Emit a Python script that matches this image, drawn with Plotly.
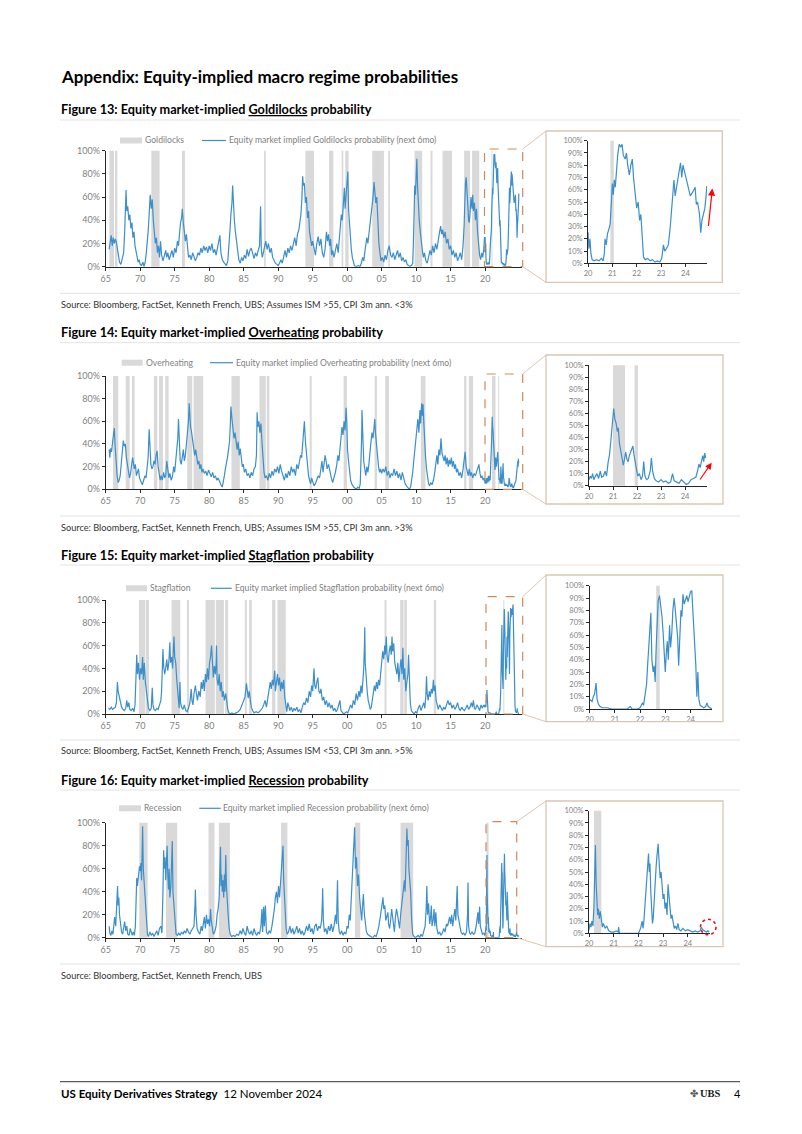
import plotly.graph_objects as go

# ---------------------------------------------------------------- data
# (year, probability %)
GOLD = [(1965.5,15),(1965.65,22),(1965.8,27),(1965.95,18),(1966.1,25),(1966.25,20),(1966.4,24),(1966.55,21),(1966.7,15),(1966.85,8),(1967.0,4),(1967.2,2),(1967.4,6),(1967.6,12),(1967.75,30),(1967.85,50),(1967.95,66),(1968.05,48),(1968.2,52),(1968.35,40),(1968.5,45),(1968.65,33),(1968.8,38),(1968.95,25),(1969.1,30),(1969.25,18),(1969.4,12),(1969.55,8),(1969.7,4),(1969.85,6),(1970.0,2),(1970.2,1),(1970.4,4),(1970.55,0),(1970.7,3),(1970.85,10),(1971.0,18),(1971.15,30),(1971.3,45),(1971.45,62),(1971.6,50),(1971.75,58),(1971.9,40),(1972.05,32),(1972.2,20),(1972.35,25),(1972.5,12),(1972.65,18),(1972.8,8),(1972.95,22),(1973.1,10),(1973.3,5),(1973.5,10),(1973.7,14),(1973.85,8),(1974.0,12),(1974.2,6),(1974.4,10),(1974.6,14),(1974.8,8),(1975.0,16),(1975.2,12),(1975.4,22),(1975.55,18),(1975.7,30),(1975.85,38),(1976.0,42),(1976.1,50),(1976.25,38),(1976.4,32),(1976.55,22),(1976.7,28),(1976.85,15),(1977.0,8),(1977.2,10),(1977.4,6),(1977.6,12),(1977.8,9),(1978.0,5),(1978.2,8),(1978.4,12),(1978.6,10),(1978.8,16),(1979.0,12),(1979.2,18),(1979.4,14),(1979.6,17),(1979.8,12),(1980.0,18),(1980.2,14),(1980.4,20),(1980.6,12),(1980.8,15),(1981.0,10),(1981.2,16),(1981.4,20),(1981.55,27),(1981.7,12),(1981.9,6),(1982.1,4),(1982.3,2),(1982.5,1),(1982.7,5),(1982.85,15),(1983.0,30),(1983.15,45),(1983.3,55),(1983.4,70),(1983.5,52),(1983.65,40),(1983.8,30),(1983.95,22),(1984.1,12),(1984.3,6),(1984.5,3),(1984.7,8),(1984.9,5),(1985.1,10),(1985.3,7),(1985.5,15),(1985.7,9),(1985.9,14),(1986.1,16),(1986.3,10),(1986.5,7),(1986.7,12),(1986.9,9),(1987.1,14),(1987.3,18),(1987.45,52),(1987.55,15),(1987.7,8),(1987.85,12),(1988.0,18),(1988.2,22),(1988.4,15),(1988.6,20),(1988.8,12),(1989.0,16),(1989.2,8),(1989.4,5),(1989.6,3),(1989.8,2),(1990.0,1),(1990.2,3),(1990.4,6),(1990.6,3),(1990.8,10),(1991.0,14),(1991.2,8),(1991.4,16),(1991.6,12),(1991.8,18),(1992.0,14),(1992.2,20),(1992.4,25),(1992.6,18),(1992.8,28),(1993.0,32),(1993.15,38),(1993.3,45),(1993.45,60),(1993.55,78),(1993.65,70),(1993.8,72),(1993.95,55),(1994.1,60),(1994.25,42),(1994.4,48),(1994.55,30),(1994.7,25),(1994.85,18),(1995.0,22),(1995.2,14),(1995.4,10),(1995.6,20),(1995.8,26),(1996.0,18),(1996.2,24),(1996.4,12),(1996.6,8),(1996.8,15),(1997.0,30),(1997.15,22),(1997.3,28),(1997.45,18),(1997.6,24),(1997.75,10),(1997.9,14),(1998.1,8),(1998.3,15),(1998.5,20),(1998.7,12),(1998.85,25),(1999.0,35),(1999.15,45),(1999.3,40),(1999.45,55),(1999.6,68),(1999.7,50),(1999.85,60),(2000.0,72),(2000.1,82),(2000.2,50),(2000.3,40),(2000.45,25),(2000.6,15),(2000.75,8),(2000.9,3),(2001.05,1),(2001.3,0),(2001.6,1),(2001.85,0),(2002.05,3),(2002.25,8),(2002.4,5),(2002.55,12),(2002.7,18),(2002.85,25),(2003.0,20),(2003.15,28),(2003.3,35),(2003.45,45),(2003.6,52),(2003.75,60),(2003.9,73),(2004.0,65),(2004.15,55),(2004.3,60),(2004.45,35),(2004.6,20),(2004.75,12),(2004.9,5),(2005.1,8),(2005.3,4),(2005.5,10),(2005.7,6),(2005.9,14),(2006.1,18),(2006.3,10),(2006.5,8),(2006.7,12),(2006.9,6),(2007.1,10),(2007.3,14),(2007.5,8),(2007.7,12),(2007.9,5),(2008.1,8),(2008.3,4),(2008.5,6),(2008.7,2),(2008.9,1),(2009.1,0),(2009.3,1),(2009.5,3),(2009.6,20),(2009.7,50),(2009.8,70),(2009.9,62),(2010.0,80),(2010.1,93),(2010.2,70),(2010.3,55),(2010.45,40),(2010.6,30),(2010.75,20),(2010.9,14),(2011.05,8),(2011.2,12),(2011.4,5),(2011.6,3),(2011.8,8),(2012.0,14),(2012.2,10),(2012.4,18),(2012.6,12),(2012.8,20),(2013.0,15),(2013.2,25),(2013.4,30),(2013.55,35),(2013.7,28),(2013.85,32),(2014.0,25),(2014.2,30),(2014.4,20),(2014.6,24),(2014.8,15),(2015.0,18),(2015.2,10),(2015.4,14),(2015.6,8),(2015.8,12),(2016.0,5),(2016.2,8),(2016.4,12),(2016.6,6),(2016.8,18),(2016.95,35),(2017.05,60),(2017.15,72),(2017.25,77),(2017.35,60),(2017.5,52),(2017.6,40),(2017.7,38),(2017.8,45),(2017.95,60),(2018.1,50),(2018.2,62),(2018.3,48),(2018.45,55),(2018.6,40),(2018.75,50),(2018.9,30),(2019.05,15),(2019.2,10),(2019.35,6),(2019.5,12),(2019.65,8),(2019.8,15),(2019.9,25),
        (2020.0,25),(2020.04,12),(2020.08,20),(2020.12,8),(2020.17,3),(2020.25,2),(2020.35,3),(2020.45,2),(2020.55,4),(2020.62,2),(2020.67,8),(2020.7,20),(2020.75,15),(2020.8,24),(2020.86,28),(2020.91,32),(2020.96,50),(2021.0,65),(2021.04,56),(2021.08,68),(2021.12,62),(2021.17,78),(2021.22,88),(2021.28,97),(2021.35,95),(2021.4,97),(2021.45,88),(2021.53,85),(2021.58,90),(2021.63,80),(2021.7,72),(2021.76,80),(2021.82,85),(2021.87,70),(2021.92,60),(2022.0,45),(2022.06,50),(2022.12,35),(2022.17,40),(2022.22,25),(2022.28,5),(2022.35,3),(2022.45,4),(2022.55,2),(2022.65,3),(2022.75,1),(2022.85,2),(2022.95,1),(2023.03,4),(2023.1,15),(2023.15,10),(2023.22,12),(2023.3,15),(2023.38,30),(2023.45,45),(2023.53,68),(2023.58,55),(2023.65,65),(2023.72,75),(2023.8,82),(2023.85,70),(2023.9,80),(2024.0,72),(2024.08,65),(2024.15,58),(2024.2,55),(2024.3,58),(2024.4,62),(2024.45,48),(2024.5,50),(2024.58,40),(2024.63,25),(2024.68,35),(2024.73,40),(2024.8,45),(2024.85,55),(2024.88,63)]

OVER = [(1965.5,35),(1965.6,28),(1965.7,36),(1965.85,33),(1966.0,42),(1966.15,48),(1966.25,54),(1966.35,40),(1966.5,22),(1966.65,12),(1966.8,6),(1966.95,8),(1967.1,12),(1967.25,22),(1967.4,35),(1967.55,43),(1967.7,38),(1967.85,40),(1968.0,28),(1968.15,22),(1968.3,15),(1968.45,10),(1968.6,14),(1968.75,20),(1968.9,28),(1969.0,24),(1969.15,18),(1969.3,22),(1969.45,12),(1969.6,15),(1969.75,18),(1969.9,10),(1970.1,6),(1970.3,4),(1970.5,8),(1970.7,12),(1970.85,10),(1971.0,18),(1971.15,28),(1971.3,53),(1971.4,35),(1971.55,22),(1971.7,18),(1971.85,20),(1972.0,25),(1972.15,22),(1972.3,30),(1972.45,34),(1972.6,20),(1972.75,12),(1972.9,8),(1973.05,12),(1973.2,8),(1973.4,15),(1973.55,10),(1973.7,12),(1973.85,25),(1974.0,18),(1974.15,10),(1974.3,14),(1974.5,8),(1974.7,12),(1974.85,20),(1975.0,15),(1975.15,25),(1975.3,35),(1975.45,45),(1975.55,62),(1975.65,40),(1975.8,25),(1975.95,22),(1976.1,30),(1976.25,35),(1976.4,25),(1976.55,30),(1976.7,40),(1976.85,48),(1977.0,60),(1977.1,76),(1977.2,62),(1977.3,55),(1977.45,50),(1977.6,42),(1977.75,38),(1977.9,30),(1978.05,35),(1978.2,28),(1978.35,22),(1978.5,25),(1978.65,18),(1978.8,22),(1978.95,15),(1979.1,18),(1979.3,14),(1979.5,16),(1979.7,12),(1979.9,17),(1980.1,14),(1980.3,11),(1980.5,15),(1980.7,10),(1980.9,12),(1981.1,8),(1981.3,10),(1981.5,6),(1981.7,4),(1981.9,2),(1982.05,6),(1982.2,12),(1982.35,18),(1982.5,22),(1982.65,28),(1982.8,35),(1982.95,42),(1983.05,55),(1983.15,73),(1983.3,62),(1983.45,55),(1983.6,45),(1983.75,50),(1983.9,40),(1984.05,35),(1984.2,42),(1984.35,30),(1984.5,36),(1984.65,25),(1984.8,20),(1984.95,22),(1985.1,15),(1985.3,18),(1985.5,12),(1985.7,14),(1985.9,10),(1986.1,15),(1986.3,12),(1986.5,18),(1986.7,20),(1986.85,30),(1986.95,68),(1987.05,55),(1987.2,60),(1987.35,50),(1987.5,58),(1987.65,42),(1987.8,25),(1987.95,15),(1988.1,10),(1988.3,12),(1988.5,8),(1988.7,14),(1988.9,10),(1989.1,16),(1989.3,12),(1989.5,18),(1989.7,15),(1989.9,20),(1990.1,14),(1990.3,22),(1990.5,16),(1990.7,12),(1990.9,8),(1991.1,14),(1991.3,10),(1991.5,16),(1991.7,12),(1991.9,20),(1992.1,15),(1992.3,18),(1992.5,12),(1992.7,22),(1992.9,18),(1993.1,25),(1993.25,30),(1993.4,28),(1993.55,40),(1993.7,52),(1993.8,60),(1993.95,42),(1994.1,30),(1994.25,20),(1994.4,12),(1994.55,8),(1994.7,5),(1994.85,10),(1995.0,6),(1995.2,3),(1995.4,5),(1995.6,8),(1995.8,12),(1996.0,10),(1996.2,18),(1996.35,25),(1996.5,15),(1996.65,22),(1996.8,30),(1996.95,25),(1997.1,18),(1997.3,22),(1997.5,15),(1997.7,10),(1997.9,6),(1998.1,10),(1998.3,15),(1998.5,22),(1998.65,30),(1998.8,25),(1998.95,35),(1999.1,45),(1999.25,55),(1999.4,48),(1999.55,60),(1999.7,52),(1999.85,72),(1999.95,60),(2000.05,35),(2000.2,25),(2000.35,15),(2000.5,8),(2000.65,5),(2000.8,3),(2000.95,2),(2001.15,1),(2001.35,0),(2001.55,2),(2001.75,1),(2001.9,5),(2002.0,20),(2002.1,45),(2002.15,70),(2002.25,40),(2002.4,25),(2002.55,18),(2002.7,12),(2002.85,20),(2003.0,15),(2003.15,22),(2003.3,35),(2003.45,42),(2003.6,50),(2003.75,45),(2003.9,55),(2004.0,62),(2004.1,50),(2004.25,42),(2004.4,30),(2004.55,20),(2004.7,15),(2004.85,18),(2005.0,14),(2005.2,18),(2005.4,15),(2005.6,20),(2005.8,12),(2006.0,16),(2006.2,10),(2006.4,14),(2006.6,12),(2006.8,18),(2007.0,12),(2007.2,16),(2007.4,10),(2007.6,14),(2007.8,8),(2008.0,15),(2008.2,10),(2008.4,5),(2008.6,3),(2008.8,1),(2009.0,0),(2009.2,2),(2009.35,8),(2009.5,15),(2009.65,25),(2009.8,35),(2009.95,45),(2010.1,55),(2010.25,62),(2010.4,50),(2010.55,70),(2010.65,58),(2010.8,76),(2010.9,65),(2011.0,75),(2011.1,60),(2011.2,45),(2011.35,30),(2011.5,18),(2011.65,10),(2011.8,5),(2011.95,3),(2012.1,6),(2012.3,4),(2012.5,8),(2012.7,15),(2012.85,25),(2013.0,30),(2013.15,22),(2013.3,35),(2013.45,30),(2013.6,45),(2013.75,32),(2013.9,28),(2014.05,25),(2014.2,30),(2014.35,22),(2014.5,28),(2014.65,20),(2014.8,26),(2014.95,22),(2015.1,28),(2015.25,20),(2015.4,25),(2015.55,18),(2015.7,22),(2015.85,15),(2016.0,18),(2016.2,12),(2016.4,15),(2016.6,10),(2016.8,18),(2016.95,25),(2017.1,33),(2017.25,20),(2017.4,15),(2017.55,12),(2017.7,18),(2017.85,12),(2018.0,15),(2018.2,10),(2018.4,14),(2018.6,12),(2018.8,16),(2018.95,20),(2019.1,22),(2019.25,14),(2019.4,10),(2019.55,12),(2019.7,8),(2019.85,10),
        (2020.0,5),(2020.05,8),(2020.1,6),(2020.15,10),(2020.2,5),(2020.27,8),(2020.33,10),(2020.4,6),(2020.47,12),(2020.53,7),(2020.6,8),(2020.67,12),(2020.73,8),(2020.8,20),(2020.85,25),(2020.9,35),(2020.95,45),(2021.0,58),(2021.03,64),(2021.08,55),(2021.13,52),(2021.18,45),(2021.22,48),(2021.27,35),(2021.32,30),(2021.38,22),(2021.43,17),(2021.48,22),(2021.53,28),(2021.58,22),(2021.63,20),(2021.68,25),(2021.73,28),(2021.78,30),(2021.83,33),(2021.88,25),(2021.93,18),(2021.98,12),(2022.03,8),(2022.1,10),(2022.17,5),(2022.23,8),(2022.28,20),(2022.33,8),(2022.4,5),(2022.47,6),(2022.55,12),(2022.6,23),(2022.65,12),(2022.72,6),(2022.8,4),(2022.9,3),(2023.0,5),(2023.1,3),(2023.2,4),(2023.3,2),(2023.4,3),(2023.48,10),(2023.55,4),(2023.65,3),(2023.75,2),(2023.85,5),(2023.95,3),(2024.05,1),(2024.15,2),(2024.25,5),(2024.35,6),(2024.45,7),(2024.52,12),(2024.58,18),(2024.63,15),(2024.7,22),(2024.74,25),(2024.78,20),(2024.82,27),(2024.86,23)]

STAG = [(1965.4,5),(1965.6,4),(1965.8,6),(1966.0,4),(1966.2,5),(1966.4,6),(1966.55,10),(1966.7,28),(1966.8,20),(1966.95,15),(1967.1,10),(1967.3,6),(1967.5,4),(1967.7,3),(1967.9,5),(1968.05,12),(1968.2,6),(1968.35,10),(1968.5,4),(1968.7,3),(1968.9,5),(1969.1,2),(1969.25,8),(1969.4,30),(1969.5,52),(1969.6,35),(1969.75,45),(1969.9,30),(1970.05,40),(1970.2,35),(1970.35,50),(1970.45,30),(1970.6,45),(1970.75,28),(1970.9,20),(1971.05,10),(1971.2,5),(1971.4,3),(1971.6,5),(1971.75,23),(1971.85,8),(1972.0,4),(1972.2,3),(1972.4,5),(1972.6,4),(1972.8,8),(1973.0,12),(1973.1,20),(1973.2,35),(1973.3,57),(1973.4,42),(1973.55,35),(1973.7,40),(1973.85,48),(1974.0,38),(1974.15,45),(1974.3,63),(1974.4,45),(1974.55,50),(1974.7,40),(1974.8,55),(1974.9,68),(1975.0,50),(1975.15,45),(1975.3,30),(1975.45,20),(1975.55,8),(1975.65,5),(1975.76,28),(1975.85,10),(1976.0,6),(1976.2,4),(1976.4,8),(1976.6,3),(1976.8,2),(1977.0,5),(1977.2,10),(1977.4,22),(1977.5,12),(1977.65,8),(1977.8,18),(1978.0,25),(1978.15,18),(1978.3,12),(1978.5,20),(1978.7,15),(1978.85,28),(1979.0,22),(1979.15,30),(1979.3,20),(1979.45,35),(1979.6,28),(1979.75,40),(1979.9,30),(1980.05,45),(1980.2,50),(1980.34,60),(1980.45,40),(1980.6,32),(1980.75,42),(1980.9,35),(1981.0,45),(1981.06,60),(1981.15,30),(1981.3,25),(1981.45,35),(1981.6,20),(1981.75,28),(1981.9,15),(1982.05,20),(1982.2,12),(1982.4,18),(1982.55,8),(1982.7,4),(1982.85,1),(1983.0,0),(1983.3,1),(1983.6,0),(1983.9,1),(1984.2,2),(1984.5,4),(1984.75,8),(1985.0,12),(1985.2,15),(1985.4,27),(1985.5,18),(1985.65,14),(1985.8,20),(1985.95,10),(1986.1,6),(1986.3,3),(1986.5,1),(1986.8,2),(1987.1,1),(1987.4,3),(1987.7,5),(1987.9,8),(1988.1,12),(1988.3,6),(1988.5,15),(1988.7,20),(1988.85,28),(1989.0,22),(1989.15,30),(1989.3,25),(1989.5,38),(1989.6,20),(1989.75,28),(1989.9,35),(1990.05,25),(1990.2,32),(1990.35,20),(1990.5,28),(1990.65,22),(1990.8,30),(1990.95,15),(1991.1,5),(1991.25,2),(1991.4,10),(1991.55,5),(1991.7,3),(1991.9,6),(1992.1,2),(1992.3,5),(1992.5,3),(1992.7,6),(1992.9,2),(1993.1,4),(1993.3,1),(1993.5,6),(1993.7,10),(1993.9,8),(1994.1,14),(1994.3,10),(1994.5,20),(1994.7,15),(1994.85,25),(1995.0,20),(1995.1,30),(1995.2,40),(1995.3,25),(1995.45,22),(1995.6,28),(1995.75,32),(1995.9,20),(1996.05,18),(1996.2,22),(1996.4,12),(1996.6,15),(1996.8,8),(1997.0,12),(1997.2,6),(1997.4,10),(1997.6,5),(1997.8,8),(1998.0,3),(1998.2,5),(1998.4,2),(1998.6,4),(1998.8,10),(1998.95,12),(1999.1,3),(1999.3,1),(1999.5,0),(1999.7,1),(1999.9,2),(2000.1,1),(2000.3,4),(2000.5,8),(2000.7,5),(2000.9,12),(2001.1,8),(2001.3,18),(2001.5,12),(2001.7,20),(2001.85,15),(2002.0,25),(2002.15,18),(2002.3,30),(2002.4,40),(2002.5,60),(2002.55,76),(2002.62,45),(2002.75,30),(2002.9,20),(2003.05,12),(2003.2,8),(2003.35,4),(2003.5,6),(2003.65,12),(2003.8,18),(2003.95,25),(2004.1,20),(2004.25,28),(2004.4,22),(2004.55,30),(2004.7,25),(2004.85,38),(2005.0,45),(2005.15,55),(2005.3,48),(2005.45,60),(2005.55,52),(2005.67,68),(2005.8,50),(2005.95,45),(2006.1,55),(2006.25,60),(2006.4,52),(2006.5,68),(2006.6,55),(2006.75,62),(2006.9,45),(2007.05,40),(2007.2,35),(2007.35,45),(2007.5,28),(2007.65,40),(2007.8,48),(2007.95,35),(2008.08,58),(2008.2,30),(2008.35,40),(2008.5,20),(2008.65,28),(2008.8,35),(2008.9,52),(2009.0,25),(2009.15,10),(2009.3,3),(2009.5,1),(2009.7,0),(2009.9,2),(2010.1,1),(2010.3,5),(2010.5,8),(2010.7,3),(2010.9,6),(2011.1,10),(2011.25,5),(2011.4,15),(2011.5,33),(2011.6,18),(2011.75,12),(2011.9,20),(2012.05,15),(2012.2,22),(2012.35,18),(2012.5,30),(2012.6,20),(2012.75,25),(2012.9,12),(2013.05,6),(2013.2,4),(2013.4,8),(2013.6,5),(2013.8,3),(2014.0,6),(2014.2,4),(2014.4,8),(2014.6,12),(2014.8,8),(2015.0,10),(2015.2,5),(2015.4,8),(2015.6,4),(2015.8,6),(2016.0,10),(2016.2,5),(2016.4,3),(2016.6,6),(2016.8,4),(2017.0,3),(2017.2,5),(2017.4,8),(2017.6,4),(2017.8,6),(2018.0,10),(2018.15,6),(2018.3,12),(2018.45,5),(2018.6,4),(2018.8,8),(2019.0,6),(2019.2,3),(2019.4,8),(2019.6,5),(2019.8,8),(2019.95,6),
        (2020.0,8),(2020.05,7),(2020.1,6),(2020.15,10),(2020.2,12),(2020.26,21),(2020.3,8),(2020.35,4),(2020.42,2),(2020.5,1),(2020.7,1),(2020.9,0),(2021.2,0),(2021.5,0),(2021.55,1),(2021.62,2),(2021.68,0),(2021.9,0),(2022.0,1),(2022.05,3),(2022.1,5),(2022.14,3),(2022.18,9),(2022.22,12),(2022.26,20),(2022.3,35),(2022.34,50),(2022.38,55),(2022.43,78),(2022.47,40),(2022.52,30),(2022.56,35),(2022.6,22),(2022.64,50),(2022.68,72),(2022.72,88),(2022.77,92),(2022.82,85),(2022.87,75),(2022.92,60),(2022.97,40),(2023.0,30),(2023.04,45),(2023.08,55),(2023.12,40),(2023.17,68),(2023.21,50),(2023.26,62),(2023.3,80),(2023.35,90),(2023.39,82),(2023.44,72),(2023.49,58),(2023.53,35),(2023.58,70),(2023.62,80),(2023.66,75),(2023.7,93),(2023.75,85),(2023.8,90),(2023.85,92),(2023.9,87),(2023.95,92),(2024.0,95),(2024.05,96),(2024.09,82),(2024.13,65),(2024.17,50),(2024.21,35),(2024.25,10),(2024.29,30),(2024.33,8),(2024.38,3),(2024.45,2),(2024.52,1),(2024.6,2),(2024.65,5),(2024.7,2),(2024.78,1),(2024.85,0)]

REC = [(1965.5,10),(1965.6,4),(1965.75,2),(1965.9,6),(1966.05,3),(1966.2,12),(1966.3,18),(1966.45,10),(1966.55,25),(1966.65,30),(1966.72,45),(1966.8,28),(1966.9,35),(1967.0,20),(1967.15,12),(1967.3,5),(1967.45,3),(1967.6,8),(1967.75,14),(1967.9,6),(1968.05,10),(1968.2,3),(1968.4,2),(1968.55,8),(1968.7,4),(1968.85,2),(1969.0,5),(1969.15,2),(1969.3,10),(1969.4,25),(1969.5,52),(1969.6,45),(1969.75,55),(1969.9,62),(1970.0,58),(1970.1,65),(1970.2,50),(1970.3,80),(1970.35,97),(1970.45,60),(1970.6,45),(1970.75,30),(1970.9,12),(1971.05,3),(1971.2,1),(1971.4,5),(1971.6,2),(1971.8,4),(1972.0,1),(1972.2,3),(1972.4,6),(1972.6,2),(1972.8,8),(1973.0,10),(1973.15,4),(1973.3,40),(1973.4,76),(1973.5,60),(1973.6,70),(1973.7,50),(1973.8,65),(1973.9,80),(1974.0,55),(1974.1,42),(1974.2,60),(1974.3,35),(1974.45,45),(1974.55,70),(1974.65,84),(1974.75,40),(1974.9,25),(1975.05,10),(1975.2,3),(1975.4,2),(1975.6,4),(1975.8,2),(1976.0,5),(1976.2,3),(1976.4,6),(1976.6,4),(1976.8,8),(1977.0,5),(1977.2,3),(1977.4,6),(1977.6,8),(1977.8,10),(1977.95,30),(1978.0,42),(1978.1,20),(1978.25,8),(1978.45,5),(1978.65,3),(1978.85,10),(1979.0,6),(1979.15,12),(1979.3,18),(1979.45,8),(1979.6,20),(1979.75,12),(1979.9,16),(1980.05,10),(1980.2,25),(1980.3,15),(1980.45,6),(1980.6,3),(1980.8,5),(1981.0,10),(1981.15,20),(1981.3,25),(1981.45,35),(1981.55,60),(1981.64,79),(1981.72,45),(1981.8,55),(1981.9,40),(1982.0,50),(1982.1,35),(1982.2,55),(1982.3,40),(1982.4,72),(1982.5,45),(1982.6,30),(1982.75,20),(1982.9,8),(1983.05,3),(1983.25,1),(1983.5,2),(1983.75,1),(1984.0,3),(1984.25,2),(1984.5,6),(1984.7,3),(1984.9,8),(1985.1,4),(1985.3,2),(1985.5,10),(1985.7,5),(1985.9,3),(1986.1,6),(1986.3,2),(1986.5,8),(1986.7,4),(1986.9,2),(1987.1,5),(1987.3,3),(1987.5,10),(1987.65,25),(1987.75,5),(1987.9,27),(1988.0,10),(1988.15,28),(1988.3,5),(1988.5,3),(1988.7,6),(1988.9,4),(1989.1,10),(1989.3,18),(1989.45,25),(1989.6,35),(1989.75,40),(1989.9,30),(1990.05,45),(1990.2,35),(1990.35,50),(1990.5,60),(1990.6,72),(1990.7,80),(1990.8,50),(1990.9,40),(1991.0,20),(1991.15,8),(1991.3,3),(1991.5,5),(1991.7,10),(1991.9,4),(1992.1,8),(1992.3,3),(1992.5,6),(1992.7,10),(1992.9,4),(1993.1,8),(1993.3,3),(1993.5,6),(1993.7,2),(1993.9,5),(1994.1,10),(1994.3,6),(1994.5,12),(1994.7,5),(1994.9,8),(1995.1,3),(1995.3,10),(1995.5,12),(1995.7,6),(1995.9,10),(1996.1,8),(1996.3,15),(1996.4,30),(1996.45,43),(1996.55,15),(1996.7,5),(1996.9,8),(1997.1,3),(1997.3,10),(1997.5,6),(1997.7,12),(1997.9,5),(1998.1,10),(1998.3,20),(1998.45,12),(1998.55,35),(1998.6,50),(1998.7,15),(1998.85,5),(1999.0,3),(1999.2,6),(1999.4,2),(1999.6,5),(1999.8,3),(2000.0,10),(2000.15,8),(2000.3,20),(2000.45,15),(2000.6,35),(2000.75,45),(2000.9,70),(2001.0,85),(2001.08,96),(2001.2,60),(2001.35,70),(2001.5,45),(2001.65,55),(2001.8,35),(2001.95,20),(2002.1,15),(2002.25,30),(2002.35,38),(2002.5,20),(2002.65,10),(2002.8,5),(2002.95,3),(2003.15,2),(2003.4,1),(2003.7,0),(2004.0,2),(2004.2,1),(2004.4,5),(2004.6,10),(2004.8,18),(2004.95,25),(2005.1,30),(2005.2,35),(2005.3,25),(2005.45,28),(2005.6,15),(2005.75,20),(2005.9,22),(2006.0,12),(2006.15,8),(2006.3,15),(2006.45,25),(2006.55,20),(2006.7,10),(2006.85,5),(2007.0,18),(2007.15,25),(2007.3,20),(2007.45,12),(2007.6,8),(2007.75,20),(2007.9,30),(2008.05,35),(2008.2,45),(2008.3,50),(2008.4,40),(2008.5,55),(2008.6,70),(2008.66,95),(2008.75,80),(2008.85,85),(2008.95,60),(2009.1,50),(2009.2,40),(2009.35,15),(2009.5,3),(2009.7,1),(2009.9,0),(2010.1,1),(2010.3,2),(2010.5,0),(2010.7,3),(2010.9,1),(2011.1,5),(2011.3,10),(2011.45,25),(2011.55,45),(2011.65,20),(2011.8,30),(2011.95,12),(2012.1,18),(2012.2,28),(2012.3,10),(2012.45,15),(2012.6,25),(2012.7,10),(2012.85,22),(2013.0,8),(2013.2,3),(2013.4,5),(2013.6,2),(2013.8,4),(2014.0,8),(2014.2,5),(2014.4,12),(2014.55,10),(2014.7,15),(2014.85,18),(2015.0,12),(2015.15,20),(2015.3,10),(2015.45,18),(2015.6,25),(2015.75,15),(2015.9,30),(2015.95,45),(2016.05,20),(2016.2,15),(2016.35,8),(2016.5,5),(2016.7,3),(2016.9,4),(2017.1,2),(2017.3,5),(2017.45,20),(2017.52,48),(2017.6,10),(2017.75,4),(2017.9,3),(2018.1,5),(2018.3,3),(2018.5,4),(2018.7,10),(2018.85,18),(2018.95,22),(2019.05,12),(2019.2,27),(2019.3,10),(2019.45,5),(2019.6,3),(2019.8,4),(2019.95,2),
       (2020.0,3),(2020.04,8),(2020.08,5),(2020.12,10),(2020.16,6),(2020.2,22),(2020.23,45),(2020.26,72),(2020.29,40),(2020.32,25),(2020.35,15),(2020.38,20),(2020.42,12),(2020.46,18),(2020.5,10),(2020.54,5),(2020.58,8),(2020.65,4),(2020.72,6),(2020.8,2),(2020.9,1),(2021.0,1),(2021.1,2),(2021.18,1),(2021.2,5),(2021.23,0),(2021.5,0),(2021.8,0),(2022.0,0),(2022.05,2),(2022.1,5),(2022.15,10),(2022.19,4),(2022.23,12),(2022.27,25),(2022.31,35),(2022.35,45),(2022.38,60),(2022.41,65),(2022.44,50),(2022.47,57),(2022.5,35),(2022.53,18),(2022.57,8),(2022.6,12),(2022.64,30),(2022.68,45),(2022.72,55),(2022.76,65),(2022.8,73),(2022.84,58),(2022.88,45),(2022.92,50),(2022.96,35),(2023.0,28),(2023.04,32),(2023.08,20),(2023.12,25),(2023.16,15),(2023.2,40),(2023.24,28),(2023.28,18),(2023.32,12),(2023.36,15),(2023.4,8),(2023.45,4),(2023.5,6),(2023.55,3),(2023.6,8),(2023.65,3),(2023.72,2),(2023.8,4),(2023.9,2),(2024.0,3),(2024.1,2),(2024.2,1),(2024.3,2),(2024.4,1),(2024.5,2),(2024.55,5),(2024.6,3),(2024.68,2),(2024.75,1),(2024.82,2),(2024.87,1)]

# regime periods (start year, end year) - grey shading
GOLD_BANDS = [(1965.53,1966.2),(1966.35,1966.69),(1971.61,1972.81),(1976.05,1976.48),(1987.96,1988.2),(1993.94,1995.2),(1997.37,1998.0),(1999.2,1999.44),(1999.73,2000.2),(2003.64,2005.33),(2005.96,2006.2),(2009.77,2010.88),(2012.08,2012.37),(2013.82,2015.2),(2016.95,2017.82),(2018.1,2019.15),(2020.92,2021.06)]
OVER_BANDS = [(1966.06,1966.83),(1967.9,1968.47),(1968.81,1969.2),(1971.99,1972.48),(1972.72,1973.3),(1973.63,1974.12),(1976.82,1977.54),(1977.74,1979.13),(1983.23,1984.44),(1987.29,1988.2),(1988.35,1988.73),(1994.57,1994.86),(1999.49,1999.97),(2003.98,2004.32),(2005.52,2006.05),(2010.68,2011.36),(2016.95,2017.29),(2017.63,2018.26),(2021.0,2021.5),(2021.9,2022.04)]
STAG_BANDS = [(1969.82,1970.69),(1970.79,1971.27),(1974.55,1975.8),(1976.77,1977.06),(1979.47,1980.82),(1980.97,1982.13),(1982.32,1982.75),(1985.16,1985.45),(1985.79,1986.18),(1989.12,1989.6),(1989.89,1991.1),(2005.42,2005.71),(2007.69,2008.17),(2008.27,2008.66),(2012.56,2012.9),(2022.64,2022.78)]
REC_BANDS = [(1969.87,1971.08),(1973.73,1975.37),(1979.9,1980.77),(1981.4,1983.0),(1990.42,1991.34),(2001.13,2001.9),(2007.74,2009.57),(2020.2,2020.5)]

MAIN_TICK_YEARS = [1965, 1970, 1975, 1980, 1985, 1990, 1995, 2000, 2005, 2010, 2015, 2020]
MAIN_TICK_LABELS = ['65', '70', '75', '80', '85', '90', '95', '00', '05', '10', '15', '20']
INSET_TICK_YEARS = [2020, 2021, 2022, 2023, 2024]
INSET_TICK_LABELS = ['20', '21', '22', '23', '24']
MAIN_Y_TICKS = [0, 20, 40, 60, 80, 100]
MAIN_Y_LABELS = ['0%', '20%', '40%', '60%', '80%', '100%']
INSET_Y_TICKS = [0, 10, 20, 30, 40, 50, 60, 70, 80, 90, 100]
INSET_Y_LABELS = ['0%', '10%', '20%', '30%', '40%', '50%', '60%', '70%', '80%', '90%', '100%']

REGIMES = ['Goldilocks', 'Overheating', 'Stagflation', 'Recession']
FIG_NUMBERS = [13, 14, 15, 16]
SERIES = [GOLD, OVER, STAG, REC]
BANDS = [GOLD_BANDS, OVER_BANDS, STAG_BANDS, REC_BANDS]
SOURCES = [
    'Source: Bloomberg, FactSet, Kenneth French, UBS; Assumes ISM &gt;55, CPI 3m ann. &lt;3%',
    'Source: Bloomberg, FactSet, Kenneth French, UBS; Assumes ISM &gt;55, CPI 3m ann. &gt;3%',
    'Source: Bloomberg, FactSet, Kenneth French, UBS; Assumes ISM &lt;53, CPI 3m ann. &gt;5%',
    'Source: Bloomberg, FactSet, Kenneth French, UBS',
]

# ---------------------------------------------------------------- layout
W, H = 802, 1134
OFF = 8  # page body margin of the html page, compensated so marks land on target pixels
FONT = 'Lato'
BLUE = '#3b8fcb'
BAND = '#d9d9d9'
GREY_TXT = '#7f7f7f'
AXIS = '#262626'
TAN = '#dbc6b2'
DASH = '#c98b5e'
RULE = '#e3e3e3'


def fx(p):
    return (p - OFF) / W


def fy(p):
    return 1 - (p - OFF) / H


PANELS = [
    dict(title_y=109, rule_y=120, leg_y=140.5, leg_box=(120, 142), leg_t1=144, leg_line=(202, 226), leg_t2=228,
         main=(105.7, 521.7, 150.7, 266.7), dash=(484.5, 522.7, 149, 266.7), box=(546, 131, 722.3, 282.3),
         inset=(588, 707.3, 140.7, 263.3), inset_end=2024.9, src_rule=293.3, src_y=305),
    dict(title_y=332.3, rule_y=342.7, leg_y=362.7, leg_box=(121.7, 142.7), leg_t1=144.5, leg_line=(210, 233), leg_t2=235,
         main=(105.7, 521.7, 376, 489.3), dash=(485, 522.7, 374, 489.3), box=(546, 355, 723, 504),
         inset=(589, 706.6, 365.3, 485.7), inset_end=2024.9, src_rule=516, src_y=527.5),
    dict(title_y=555, rule_y=565, leg_y=588.3, leg_box=(126, 147), leg_t1=149.3, leg_line=(211, 231.7), leg_t2=234,
         main=(105.7, 521.7, 600, 714), dash=(486, 522.7, 596.7, 714), box=(546, 575, 723, 721.7),
         inset=(589.5, 712, 585.7, 709), inset_end=2024.85, src_rule=740, src_y=750.5),
    dict(title_y=780, rule_y=790, leg_y=808.3, leg_box=(119, 141), leg_t1=142.7, leg_line=(199.3, 220.7), leg_t2=222,
         main=(105.7, 521.7, 822.7, 937.7), dash=(486, 516.7, 821.7, 937.7), box=(546, 801, 723, 946.7),
         inset=(589, 710, 810.7, 933.3), inset_end=2024.9, src_rule=964, src_y=975.7),
]

fig = go.Figure()
layout = {}
shapes = []
annotations = []


def axkey(n, kind):
    return kind + 'axis' + ('' if n == 1 else str(n))


def axref(n, kind):
    return kind + ('' if n == 1 else str(n))


def axis_common(size):
    return dict(showline=True, linecolor=AXIS, linewidth=1, ticks='outside', ticklen=3, tickwidth=1,
                tickcolor=AXIS, tickfont=dict(family=FONT, size=size, color=GREY_TXT), showgrid=False,
                zeroline=False, fixedrange=True, automargin=False)


def text(x, y, s, size, color='#000000', xanchor='left', family=FONT):
    annotations.append(dict(x=fx(x), y=fy(y), xref='paper', yref='paper', text=s, showarrow=False,
                            xanchor=xanchor, yanchor='middle', borderpad=0,
                            font=dict(family=family, size=size, color=color)))


def hline(x0, x1, y, color, width=1):
    shapes.append(dict(type='line', xref='paper', yref='paper', x0=fx(x0), x1=fx(x1), y0=fy(y), y1=fy(y),
                       line=dict(color=color, width=width)))


# page title
text(60, 77, '<b>Appendix: Equity-implied macro regime probabilities</b>', 17)

for i, P in enumerate(PANELS):
    regime = REGIMES[i]
    series = SERIES[i]
    bands = BANDS[i]
    mn, inn = 2 * i + 1, 2 * i + 2
    xs = [p[0] for p in series]
    ys = [p[1] for p in series]

    # titles / rules
    text(60, P['title_y'],
         '<b>Figure %d: Equity market-implied <span style="text-decoration:underline">%s</span> probability</b>'
         % (FIG_NUMBERS[i], regime), 12.7)
    hline(60, 740, P['rule_y'], RULE)
    hline(60, 740, P['src_rule'], RULE)
    text(60, P['src_y'], SOURCES[i], 9.2, '#333333')

    # legend
    lb = P['leg_box']
    shapes.append(dict(type='rect', xref='paper', yref='paper', x0=fx(lb[0]), x1=fx(lb[1]),
                       y0=fy(P['leg_y'] + 3), y1=fy(P['leg_y'] - 3), fillcolor=BAND, line_width=0))
    text(P['leg_t1'], P['leg_y'], regime, 8.6, GREY_TXT)
    ll = P['leg_line']
    hline(ll[0], ll[1], P['leg_y'], BLUE, 1.2)
    text(P['leg_t2'], P['leg_y'], 'Equity market implied %s probability (next 6mo)' % regime, 8.6, GREY_TXT)

    # main axes
    m = P['main']
    layout[axkey(mn, 'x')] = dict(domain=[fx(m[0]), fx(m[1])], range=[1965, 2025.3], anchor=axref(mn, 'y'),
                                  tickmode='array', tickvals=MAIN_TICK_YEARS, ticktext=MAIN_TICK_LABELS,
                                  **axis_common(9))
    layout[axkey(mn, 'y')] = dict(domain=[fy(m[3]), fy(m[2])], range=[0, 100], anchor=axref(mn, 'x'),
                                  tickmode='array', tickvals=MAIN_Y_TICKS, ticktext=MAIN_Y_LABELS,
                                  **axis_common(9))
    # inset axes
    s = P['inset']
    layout[axkey(inn, 'x')] = dict(domain=[fx(s[0]), fx(s[1])], range=[2020, P['inset_end']],
                                   anchor=axref(inn, 'y'), tickmode='array', tickvals=INSET_TICK_YEARS,
                                   ticktext=INSET_TICK_LABELS, **axis_common(7.5))
    layout[axkey(inn, 'y')] = dict(domain=[fy(s[3]), fy(s[2])], range=[0, 100], anchor=axref(inn, 'x'),
                                   tickmode='array', tickvals=INSET_Y_TICKS, ticktext=INSET_Y_LABELS,
                                   **axis_common(7.5))

    # regime shading
    for a, b in bands:
        shapes.append(dict(type='rect', xref=axref(mn, 'x'), yref=axref(mn, 'y') + ' domain', x0=a, x1=b,
                           y0=0, y1=1, fillcolor=BAND, line_width=0, layer='below'))
        if b > 2020:
            shapes.append(dict(type='rect', xref=axref(inn, 'x'), yref=axref(inn, 'y') + ' domain',
                               x0=max(a, 2020), x1=b, y0=0, y1=1, fillcolor=BAND, line_width=0, layer='below'))

    # lines
    fig.add_trace(go.Scatter(x=xs, y=ys, mode='lines', line=dict(color=BLUE, width=1.2), showlegend=False,
                             hoverinfo='skip', xaxis=axref(mn, 'x'), yaxis=axref(mn, 'y')))
    fig.add_trace(go.Scatter(x=xs, y=ys, mode='lines', line=dict(color=BLUE, width=1.2), showlegend=False,
                             hoverinfo='skip', xaxis=axref(inn, 'x'), yaxis=axref(inn, 'y')))

    # zoom box, inset frame and connectors
    d = P['dash']
    shapes.append(dict(type='rect', xref='paper', yref='paper', x0=fx(d[0]), x1=fx(d[1]), y0=fy(d[3]),
                       y1=fy(d[2]), line=dict(color=DASH, width=1.2, dash='dash')))
    b = P['box']
    shapes.append(dict(type='rect', xref='paper', yref='paper', x0=fx(b[0]), x1=fx(b[2]), y0=fy(b[3]),
                       y1=fy(b[1]), line=dict(color=TAN, width=1.3)))
    shapes.append(dict(type='line', xref='paper', yref='paper', x0=fx(d[1]), y0=fy(d[2]), x1=fx(b[0]),
                       y1=fy(b[1]), line=dict(color=TAN, width=1)))
    shapes.append(dict(type='line', xref='paper', yref='paper', x0=fx(d[1]), y0=fy(d[3]), x1=fx(b[0]),
                       y1=fy(b[3]), line=dict(color=TAN, width=1)))

# red markers on the insets
annotations.append(dict(x=fx(712.3), y=fy(188.5), xref='paper', yref='paper', ax=-4, ay=39, axref='pixel',
                        ayref='pixel', showarrow=True, arrowhead=2, arrowsize=1.2, arrowwidth=1.2,
                        arrowcolor='#ff0000', text=''))
annotations.append(dict(x=fx(711.7), y=fy(462.7), xref='paper', yref='paper', ax=-12.7, ay=18.3, axref='pixel',
                        ayref='pixel', showarrow=True, arrowhead=2, arrowsize=1.2, arrowwidth=1.1,
                        arrowcolor='#ff0000', text=''))
shapes.append(dict(type='circle', xref='paper', yref='paper', x0=fx(700.5), x1=fx(716), y0=fy(934.8),
                   y1=fy(919.3), line=dict(color='#e8141c', width=1.6, dash='dot')))

# footer
hline(60, 740, 1081.7, '#333333', 1)
text(60, 1093, '<b>US Equity Derivatives Strategy</b>  12 November 2024', 11.5, '#000000')
text(689, 1093, '✤', 10, '#555555', family='DejaVu Sans')
text(699, 1093, '<b>UBS</b>', 10.5, '#222222', family='Liberation Serif')
text(733, 1093, '4', 11, '#000000')

fig.update_layout(template='none', width=W, height=H,
                  margin=dict(l=0, r=0, t=0, b=0, pad=0, autoexpand=False), paper_bgcolor='white',
                  plot_bgcolor='rgba(0,0,0,0)', showlegend=False, shapes=shapes, annotations=annotations,
                  font=dict(family=FONT), **layout)

fig.write_html('out.html')
